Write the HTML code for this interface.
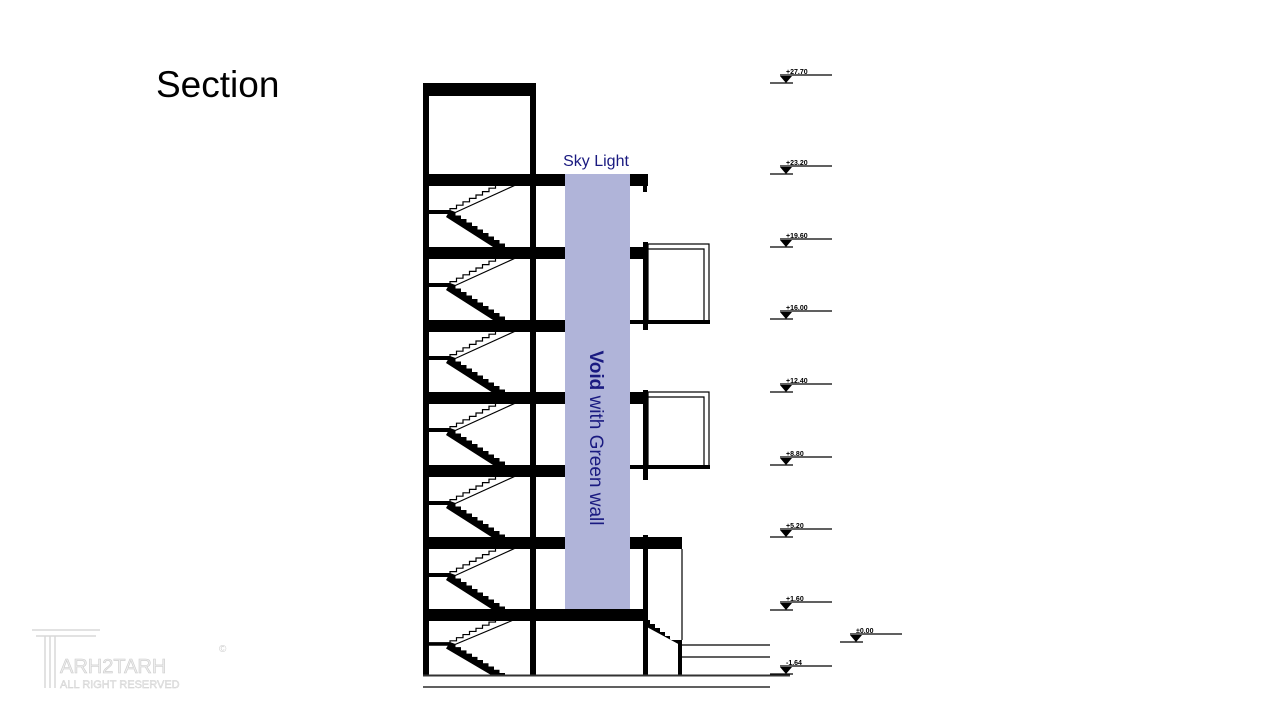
<!DOCTYPE html>
<html><head><meta charset="utf-8"><style>
html,body{margin:0;padding:0;background:#fff;}
svg{display:block}
</style></head><body>
<svg width="1280" height="720" viewBox="0 0 1280 720" xmlns="http://www.w3.org/2000/svg" font-family="Liberation Sans, sans-serif">
<defs>
<g id="fl">
<rect x="423" y="0" width="142" height="12" fill="#000"/>
<line x1="429" y1="38" x2="450" y2="38" stroke="#000" stroke-width="4"/>
<polygon fill="#000" points="450,36 455.5,38 455.5,41.5 461,41.5 461,45 466.5,45 466.5,48.5 472,48.5 472,52 477.5,52 477.5,55.5 483,55.5 483,59 488.5,59 488.5,62.5 494,62.5 494,66 499.5,66 499.5,69.5 505,69.5 505,73 493,73 446,43"/>
<path d="M450,38 V34.6 H456.5 V31.2 H463 V27.8 H469.5 V24.4 H476 V21 H482.5 V17.6 H489 V14.2 H495.5 V10.8 H502 V7.4 H508.5 V4 H530" fill="none" stroke="#000" stroke-width="1.2"/>
<line x1="452" y1="40" x2="520" y2="9" stroke="#000" stroke-width="1.2"/>
</g>
<g id="lv">
<line x1="0" y1="0" x2="52" y2="0" stroke="#000" stroke-width="1.2"/>
<line x1="-10" y1="8" x2="13" y2="8" stroke="#000" stroke-width="1.2"/>
<polygon points="0,1 12,1 6,8" fill="#000"/>
</g>
</defs>
<rect width="1280" height="720" fill="#fff"/>
<text x="156" y="97" font-size="37" fill="#000">Section</text>
<rect x="565" y="174" width="65" height="436" fill="#b0b4d9"/>
<text x="596" y="166" font-size="16" fill="#1a1a80" text-anchor="middle">Sky Light</text>
<text transform="translate(590,438) rotate(90)" font-size="19" fill="#1a1a80" text-anchor="middle"><tspan font-weight="bold">Void</tspan> with Green wall</text>
<use href="#fl" transform="translate(0,174)"/>
<use href="#fl" transform="translate(0,247)"/>
<use href="#fl" transform="translate(0,320)"/>
<use href="#fl" transform="translate(0,392)"/>
<use href="#fl" transform="translate(0,465)"/>
<use href="#fl" transform="translate(0,537)"/>
<use href="#fl" transform="translate(0,609) scale(1,0.92)"/>
<g fill="#000">
<rect x="423" y="83" width="112" height="13"/>
<rect x="423" y="83" width="6" height="593"/>
<rect x="530" y="83" width="6" height="593"/>
<rect x="630" y="174" width="18" height="12"/>
<rect x="643" y="174" width="4" height="18"/>
<rect x="423" y="609" width="222" height="12"/>
<rect x="643" y="535" width="5" height="141"/>
<rect x="630" y="537" width="52" height="12"/>
<rect x="678" y="640" width="4" height="36"/>
<polygon points="645,620 650,620 650,624 655,624 655,628 660,628 660,632 665,632 665,636 670,636 670,640 682,640 682,646 645,626"/>
<rect x="630" y="247" width="15" height="12"/>
<rect x="643" y="242" width="5" height="88"/>
<rect x="630" y="320" width="80" height="4"/>
<rect x="630" y="392" width="15" height="12"/>
<rect x="643" y="390" width="5" height="90"/>
<rect x="630" y="465" width="80" height="4"/>
</g>
<g fill="none" stroke="#000" stroke-width="1.2">
<rect x="648" y="244" width="61" height="78"/>
<polyline points="648,249 704,249 704,320"/>
<rect x="648" y="392" width="61" height="75"/>
<polyline points="648,397 704,397 704,465"/>
<line x1="682" y1="549" x2="682" y2="640"/>
<line x1="682" y1="645" x2="770" y2="645"/>
<line x1="682" y1="657" x2="770" y2="657"/>
<line x1="423" y1="687" x2="770" y2="687"/>
</g>
<line x1="423" y1="675.5" x2="790" y2="675.5" stroke="#333" stroke-width="2"/>
<use href="#lv" transform="translate(780,75)"/>
<use href="#lv" transform="translate(780,166)"/>
<use href="#lv" transform="translate(780,239)"/>
<use href="#lv" transform="translate(780,311)"/>
<use href="#lv" transform="translate(780,384)"/>
<use href="#lv" transform="translate(780,457)"/>
<use href="#lv" transform="translate(780,529)"/>
<use href="#lv" transform="translate(780,602)"/>
<use href="#lv" transform="translate(850,634)"/>
<use href="#lv" transform="translate(780,666)"/>
<g font-size="7" fill="#000" font-weight="bold">
<text x="786" y="74">+27.70</text>
<text x="786" y="165">+23.20</text>
<text x="786" y="238">+19.60</text>
<text x="786" y="310">+16.00</text>
<text x="786" y="383">+12.40</text>
<text x="786" y="456">+8.80</text>
<text x="786" y="528">+5.20</text>
<text x="786" y="601">+1.60</text>
<text x="856" y="633">±0.00</text>
<text x="786" y="665">-1.64</text>
</g>
<g fill="none" stroke="#d8d8d8" stroke-width="1.5">
<path d="M32,630 H100 M36,636 H96 M45,636 V688 M50,636 V688 M55,636 V688"/>
</g>
<text x="60" y="673" font-size="20" fill="#eee" stroke="#ccc" stroke-width="0.6">ARH2TARH</text>
<text x="60" y="688" font-size="11" fill="#eee" stroke="#ccc" stroke-width="0.4">ALL RIGHT RESERVED</text>
<text x="219" y="652" font-size="10" fill="#ccc">©</text>
</svg>
</body></html>
